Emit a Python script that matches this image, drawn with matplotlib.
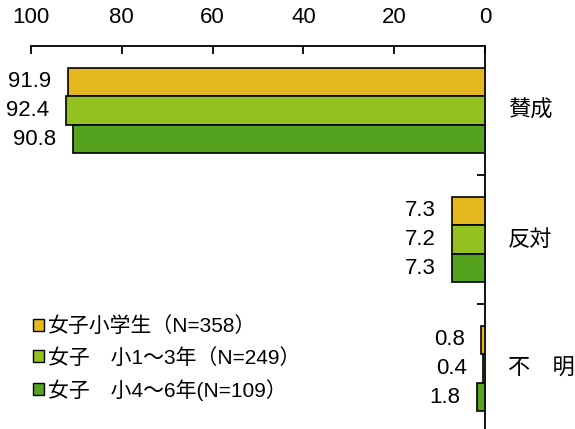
import matplotlib
matplotlib.use("Agg")
import matplotlib.pyplot as plt
from matplotlib.patches import Patch
import numpy as np

plt.rcParams['font.family'] = ['Liberation Sans', 'Noto Sans CJK JP', 'DejaVu Sans']

categories = ["賛成", "反対", "不　明"]
series_names = ["女子小学生（N=358）", "女子　小1～3年（N=249）", "女子　小4～6年(N=109）"]
values = [
    [91.9, 7.3, 0.8],   # 女子小学生
    [92.4, 7.2, 0.4],   # 小1～3年
    [90.8, 7.3, 1.8],   # 小4～6年
]
colors = ["#E5B820", "#93C120", "#55A21F"]
xticks = [100, 80, 60, 40, 20, 0]

W, H = 575, 429
fig = plt.figure(figsize=(W / 100, H / 100), dpi=100)
ax = fig.add_axes([31 / W, -4 / H, (485 - 31) / W, (433 - 46) / H])

bar_h = 0.222
y0 = np.arange(len(categories))
for i, (vals, col) in enumerate(zip(values, colors)):
    ys = y0 + (i - 1) * bar_h
    ax.barh(ys, vals, height=bar_h, color=col, edgecolor="black", linewidth=1.2, zorder=3)
    for y, v in zip(ys, vals):
        ax.text(v + 3.6, y, f"{v:.1f}", ha="right", va="center", fontsize=16)

ax.set_xlim(100, 0)
ax.set_ylim(len(categories) - 0.5, -0.5)

ax.xaxis.tick_top()
ax.set_xticks(xticks)
ax.set_xticklabels([str(t) for t in xticks], fontsize=16)
ax.tick_params(axis="x", direction="in", length=6, width=1.3, pad=13)

ax.yaxis.tick_right()
ax.set_yticks([0.5, 1.5])
ax.set_yticklabels([])
ax.tick_params(axis="y", direction="in", length=6, width=1.3)

for y, cat in zip(y0, categories):
    ax.text(-5.0, y, cat, ha="left", va="center", fontsize=16,
            family=['Noto Sans CJK JP'])

ax.spines["left"].set_visible(False)
ax.spines["bottom"].set_visible(False)
ax.spines["top"].set_linewidth(1.3)
ax.spines["right"].set_linewidth(1.3)

handles = [Patch(facecolor=c, edgecolor="black", linewidth=1.0) for c in colors]
fig.legend(handles, series_names, loc="upper left",
           bbox_to_anchor=(25 / W, 1 - 308 / H), frameon=False,
           fontsize=15, handlelength=0.5, handleheight=0.5,
           handletextpad=0.2, labelspacing=0.55, borderaxespad=0)

fig.savefig("out.png", dpi=100)
